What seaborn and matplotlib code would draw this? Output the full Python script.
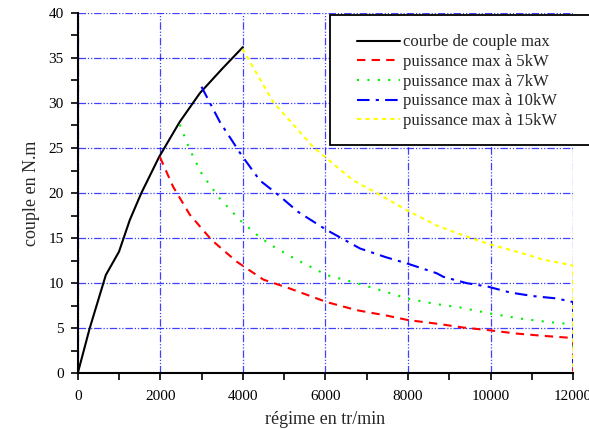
import numpy as np
import pandas as pd
import matplotlib
matplotlib.use('Agg')
import matplotlib.pyplot as plt
import seaborn as sns
from matplotlib.ticker import MultipleLocator
from matplotlib.patches import Rectangle

# courbe de couple max
rpm_max = [0, 290, 680, 1000, 1260, 1540, 1970, 2470, 2960, 3500, 4000]
couple_max = [0, 5.0, 10.9, 13.5, 17.0, 20.0, 24.0, 27.9, 31.1, 33.8, 36.2]

# puissance max a 5kW
rpm_5 = [1990, 2310, 2715, 3240, 3846, 4493, 5139, 6030, 6756, 7483, 8000, 8695, 9341, 9947, 10634, 11280, 11927, 12000, 12000]
couple_5 = [24.0, 20.7, 17.6, 14.8, 12.4, 10.4, 9.4, 7.9, 7.0, 6.4, 5.9, 5.5, 5.07, 4.78, 4.4, 4.15, 3.93, 3.9, 0]

# puissance max a 7kW
rpm_7 = [2473, 2715, 2998, 3402, 3927, 4331, 4655, 5261, 6030, 6796, 7725, 7968, 8695, 9260, 9988, 10715, 11362, 11968, 12000, 12000]
couple_7 = [27.6, 24.8, 22.2, 19.6, 17.0, 15.4, 14.3, 12.7, 10.9, 9.96, 8.67, 8.3, 7.67, 7.3, 6.63, 6.07, 5.7, 5.44, 5.4, 0]

# puissance max a 10kW
rpm_10 = [2998, 3442, 3968, 4412, 4857, 5341, 6030, 6836, 7483, 7968, 8695, 8857, 9422, 9947, 10473, 11038, 11604, 11968, 12000, 12000]
couple_10 = [31.8, 27.9, 24.2, 21.4, 19.8, 17.9, 15.9, 13.85, 12.85, 12.2, 11.1, 10.7, 10.0, 9.6, 8.96, 8.56, 8.3, 7.93, 7.9, 0]

# puissance max a 15kW
rpm_15 = [3992, 4735, 5705, 6030, 6675, 7240, 7968, 8695, 9341, 9988, 10634, 11280, 11968, 12000, 12000]
couple_15 = [36.0, 30.1, 25.1, 23.85, 21.4, 20.0, 18.1, 16.4, 15.3, 14.3, 13.5, 12.6, 12.0, 11.9, 0]

sns.set_style('white')
plt.rcParams['font.family'] = ['Liberation Serif', 'DejaVu Serif']

fig = plt.figure(figsize=(5.89, 4.29), dpi=100)
ax = fig.add_axes([0.132, 0.130, 0.841, 0.840])

series = [
    (rpm_max, couple_max, 'black', '-', 'courbe de couple max'),
    (rpm_5, couple_5, 'red', (0, (4, 3)), 'puissance max à 5kW'),
    (rpm_7, couple_7, '#00ee00', (0, (1, 4)), 'puissance max à 7kW'),
    (rpm_10, couple_10, 'blue', (0, (6, 3, 1.5, 3)), 'puissance max à 10kW'),
    (rpm_15, couple_15, '#ffff00', (0, (2, 2)), 'puissance max à 15kW'),
]
for x, y, c, ls, lab in series:
    df = pd.DataFrame({'x': x, 'y': y})
    sns.lineplot(data=df, x='x', y='y', ax=ax, color=c, linestyle=ls, lw=1.5,
                 label=lab, estimator=None, sort=False)

ax.set_xlim(0, 12000)
ax.set_ylim(0, 40)
ax.xaxis.set_major_locator(MultipleLocator(2000))
ax.xaxis.set_minor_locator(MultipleLocator(1000))
ax.yaxis.set_major_locator(MultipleLocator(5))
ax.yaxis.set_minor_locator(MultipleLocator(2.5))
ax.grid(True, which='major', color='blue', alpha=0.75, lw=0.9,
        linestyle=(0, (6, 1.5, 1, 1.5, 1, 1.5)))
ax.set_axisbelow(True)

for s in ['top', 'right']:
    ax.spines[s].set_visible(False)
for s in ['left', 'bottom']:
    ax.spines[s].set_color('black')
    ax.spines[s].set_linewidth(1.5)
ax.tick_params(which='both', direction='out', length=5, width=1.2, colors='black',
               labelsize=11, left=True, bottom=True)
ax.tick_params(which='minor', length=5)
ax.tick_params(axis='x', pad=7)
ax.tick_params(axis='y', pad=5)

ax.set_xlabel('régime en tr/min', fontsize=13, labelpad=6)
ax.set_ylabel('couple en N.m', fontsize=13, labelpad=6)

# legend box runs past the right edge of the figure
box = Rectangle((0.509, 0.633), 0.6, 0.361, transform=ax.transAxes,
                facecolor='white', edgecolor='black', lw=1.3, clip_on=False, zorder=4)
ax.add_patch(box)
leg = ax.legend(loc='upper left', bbox_to_anchor=(0.564, 0.94), fontsize=12,
                frameon=False, handlelength=2.6, handletextpad=0.15, borderpad=0,
                labelspacing=0.22, borderaxespad=0)
leg.set_zorder(5)

fig.savefig('out.png', dpi=100)
